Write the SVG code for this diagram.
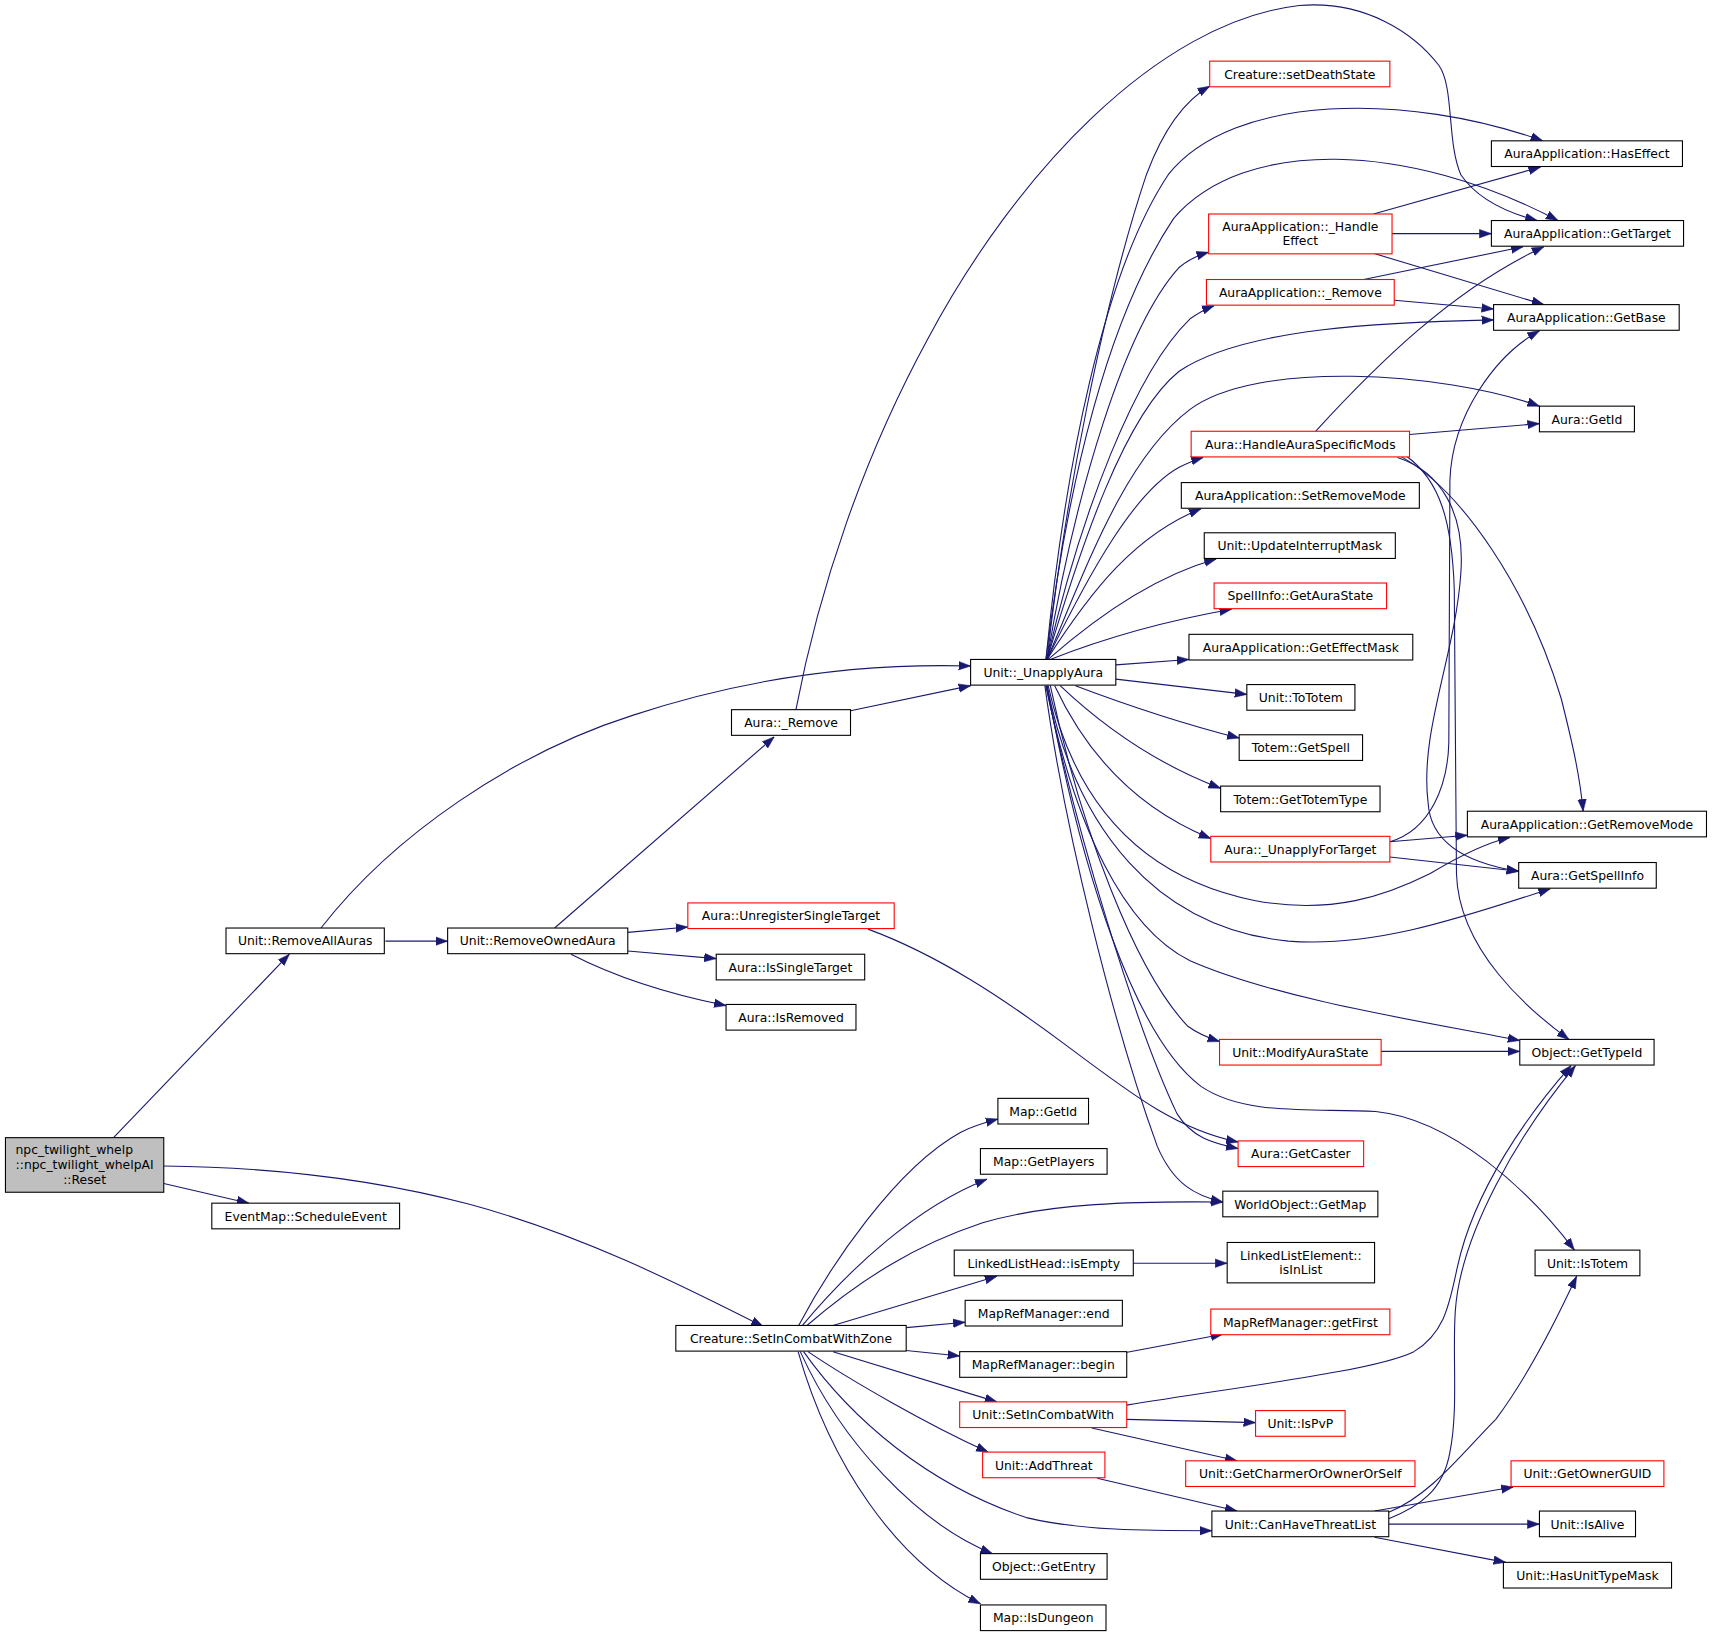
<svg xmlns="http://www.w3.org/2000/svg" width="1712" height="1636" viewBox="0 0 1712 1636">
<defs>
<style>
.n rect{fill:#ffffff;stroke:#000000;stroke-width:1}
.n.r rect{stroke:#ff0000}
.n.m rect{fill:#bfbfbf}
text{font-family:"DejaVu Sans","Liberation Sans",sans-serif;font-size:11.35px;text-anchor:middle;fill:#000000}
.e path{fill:none;stroke:#191970;stroke-width:1;marker-end:url(#a)}
</style>
<marker id="a" markerWidth="11" markerHeight="9" refX="11" refY="4.5" orient="auto" markerUnits="userSpaceOnUse"><path d="M0,0.6 L11,4.5 L0,8.4 z" fill="#191970" stroke="#191970" stroke-width="0.5"/></marker>
</defs>
<rect x="0" y="0" width="1712" height="1636" fill="#ffffff"/>
<g transform="scale(1.0918)">
<g id="edges" class="e">
<path d="M104,1042 L265,874"/>
<path d="M150,1084 L228,1102"/>
<path d="M150,1068 C260,1069 350,1082 430,1103 C530,1130 620,1175 699,1215"/>
<path d="M353,862 L410,862"/>
<path d="M294,850 C360,765 470,690 580,655 C680,622 780,607 889,610"/>
<path d="M508,850 L709,675"/>
<path d="M575,854 L630,849"/>
<path d="M575,871 L656,878"/>
<path d="M523,874 C560,893 610,910 665,921"/>
<path d="M779,651 L889,628"/>
<path d="M729,650 C750,540 790,420 850,310 C930,160 1060,20 1190,5 C1250,0 1295,30 1318,60 C1332,80 1325,130 1338,160 C1355,185 1385,196 1408,202"/>
<path d="M959,604 C975,460 1010,280 1050,160 C1065,120 1085,92 1108,79"/>
<path d="M958,604 C975,430 1010,250 1070,160 C1130,85 1290,85 1413,129"/>
<path d="M958,604 C978,440 1015,290 1075,200 C1140,125 1290,130 1427,202"/>
<path d="M959,604 C985,450 1030,300 1080,245 C1088,238 1097,234 1107,231"/>
<path d="M959,604 C990,470 1040,340 1090,292 C1097,287 1104,283 1112,280"/>
<path d="M959,604 C990,500 1030,380 1080,340 C1140,300 1270,295 1368,293"/>
<path d="M959,604 C995,520 1030,420 1090,375 C1150,330 1320,340 1410,372"/>
<path d="M959,604 C1000,520 1040,450 1080,428 C1088,424 1095,421 1102,419"/>
<path d="M959,604 C1000,540 1040,490 1100,466"/>
<path d="M960,604 C1010,560 1060,527 1114,512"/>
<path d="M962,604 C1010,585 1060,570 1128,558"/>
<path d="M1022,609 L1089,604"/>
<path d="M1022,622 L1142,636"/>
<path d="M985,628 C1030,645 1080,662 1135,676"/>
<path d="M971,628 C1010,665 1060,700 1118,722"/>
<path d="M966,628 C995,690 1040,740 1109,768"/>
<path d="M960,628 C985,740 1050,805 1150,825 C1220,838 1270,820 1310,800 C1335,785 1360,772 1383,767"/>
<path d="M959,628 C985,760 1060,850 1180,862 C1260,868 1340,840 1420,814"/>
<path d="M958,628 C985,760 1030,850 1090,880 C1170,915 1300,935 1392,953"/>
<path d="M962,628 C990,760 1040,890 1088,940 C1096,946 1105,950 1117,954"/>
<path d="M958,628 C985,760 1040,940 1078,1020 C1092,1042 1110,1047 1134,1052"/>
<path d="M957,628 C975,760 1020,940 1060,1050 C1075,1085 1095,1095 1120,1101"/>
<path d="M959,628 C990,800 1040,950 1100,995 C1140,1022 1200,1015 1260,1018 C1330,1025 1400,1090 1442,1145"/>
<path d="M795,851 C860,875 920,915 980,960 C1040,1005 1080,1035 1134,1046"/>
<path d="M1258,196 L1411,153"/>
<path d="M1275,214 L1366,214"/>
<path d="M1258,232 L1414,279"/>
<path d="M1249,256 L1395,226"/>
<path d="M1277,275 L1368,283"/>
<path d="M1205,395 C1260,335 1330,265 1414,226"/>
<path d="M1291,398 L1410,388"/>
<path d="M1283,418 C1340,450 1400,540 1430,640 C1440,680 1447,710 1450,743"/>
<path d="M1280,419 C1320,432 1342,470 1338,525 C1333,600 1300,670 1308,735 C1310,770 1340,790 1391,798"/>
<path d="M1287,417 C1320,440 1330,480 1332,540 L1334,800 C1336,870 1400,925 1437,952"/>
<path d="M1273,771 C1310,760 1326,720 1327,680 L1328,440 C1330,380 1370,325 1410,303"/>
<path d="M1273,771 L1344,765"/>
<path d="M1273,785 L1391,798"/>
<path d="M1265,963 L1392,963"/>
<path d="M731,1215 C760,1160 820,1070 880,1037 C892,1031 903,1028 914,1025"/>
<path d="M734,1215 C780,1160 840,1105 904,1080"/>
<path d="M738,1215 C790,1170 840,1140 900,1120 C960,1102 1040,1100 1120,1101"/>
<path d="M763,1214 L913,1169"/>
<path d="M830,1216 L884,1211"/>
<path d="M830,1237 L879,1242"/>
<path d="M763,1238 L913,1284"/>
<path d="M740,1238 C780,1265 850,1305 905,1330"/>
<path d="M736,1238 C780,1300 850,1360 940,1390 C990,1402 1050,1402 1110,1402"/>
<path d="M733,1238 C770,1320 840,1395 909,1423"/>
<path d="M731,1238 C760,1340 820,1430 898,1469"/>
<path d="M1038,1157 L1124,1157"/>
<path d="M1030,1239 L1120,1222"/>
<path d="M1032,1300 L1150,1303"/>
<path d="M1000,1308 L1133,1338"/>
<path d="M1032,1287 C1150,1268 1260,1255 1295,1238 C1325,1220 1328,1190 1335,1160 C1350,1090 1400,1020 1439,976"/>
<path d="M1005,1354 L1133,1384"/>
<path d="M1259,1384 L1386,1362"/>
<path d="M1272,1396 L1410,1396"/>
<path d="M1259,1408 L1379,1431"/>
<path d="M1272,1391 C1300,1380 1322,1365 1328,1330 C1336,1290 1330,1240 1333,1200 C1338,1130 1390,1040 1443,976"/>
<path d="M1272,1385 C1310,1370 1340,1330 1370,1300 C1400,1260 1425,1210 1444,1169"/>
</g>
<g id="n0" class="n m"><rect x="5" y="1042" width="145" height="50"/><text x="68" y="1057.4">npc_twilight_whelp</text><text x="77.5" y="1071.1">::npc_twilight_whelpAI</text><text x="77.5" y="1084.8">::Reset</text></g>
<g id="n1" class="n"><rect x="207" y="850" width="145" height="23.5"/><text x="279.5" y="866">Unit::RemoveAllAuras</text></g>
<g id="n2" class="n"><rect x="194" y="1102" width="172" height="23.5"/><text x="280" y="1118">EventMap::ScheduleEvent</text></g>
<g id="n3" class="n"><rect x="410" y="850" width="165" height="23.5"/><text x="492.5" y="866">Unit::RemoveOwnedAura</text></g>
<g id="n4" class="n"><rect x="619" y="1214" width="211" height="23.5"/><text x="724.5" y="1230">Creature::SetInCombatWithZone</text></g>
<g id="n5" class="n"><rect x="670" y="650" width="109" height="23.5"/><text x="724.5" y="666">Aura::_Remove</text></g>
<g id="n6" class="n r"><rect x="630" y="827" width="189" height="23.5"/><text x="724.5" y="843">Aura::UnregisterSingleTarget</text></g>
<g id="n7" class="n"><rect x="656" y="874" width="136" height="23.5"/><text x="724" y="890">Aura::IsSingleTarget</text></g>
<g id="n8" class="n"><rect x="665" y="920" width="119" height="23.5"/><text x="724.5" y="936">Aura::IsRemoved</text></g>
<g id="n9" class="n"><rect x="889" y="604" width="133" height="23.5"/><text x="955.5" y="620">Unit::_UnapplyAura</text></g>
<g id="n10" class="n"><rect x="914" y="1006" width="83" height="23.5"/><text x="955.5" y="1022">Map::GetId</text></g>
<g id="n11" class="n"><rect x="898" y="1052" width="116" height="23.5"/><text x="956" y="1068">Map::GetPlayers</text></g>
<g id="n12" class="n"><rect x="874" y="1145" width="164" height="23.5"/><text x="956" y="1161">LinkedListHead::isEmpty</text></g>
<g id="n13" class="n"><rect x="884" y="1191" width="144" height="23.5"/><text x="956" y="1207">MapRefManager::end</text></g>
<g id="n14" class="n"><rect x="879" y="1238" width="153" height="23.5"/><text x="955.5" y="1254">MapRefManager::begin</text></g>
<g id="n15" class="n r"><rect x="879" y="1284" width="153" height="23.5"/><text x="955.5" y="1300">Unit::SetInCombatWith</text></g>
<g id="n16" class="n r"><rect x="900" y="1330" width="112" height="23.5"/><text x="956" y="1346">Unit::AddThreat</text></g>
<g id="n17" class="n"><rect x="898" y="1423" width="116" height="23.5"/><text x="956" y="1439">Object::GetEntry</text></g>
<g id="n18" class="n"><rect x="898" y="1470" width="115" height="23.5"/><text x="955.5" y="1486">Map::IsDungeon</text></g>
<g id="n19" class="n r"><rect x="1108" y="56" width="165" height="23.5"/><text x="1190.5" y="72">Creature::setDeathState</text></g>
<g id="n20" class="n r"><rect x="1107" y="196" width="168" height="36.5"/><text x="1191" y="211.7">AuraApplication::_Handle</text><text x="1191" y="224.7">Effect</text></g>
<g id="n21" class="n r"><rect x="1105" y="256" width="172" height="23.5"/><text x="1191" y="272">AuraApplication::_Remove</text></g>
<g id="n22" class="n r"><rect x="1091" y="395" width="200" height="23.5"/><text x="1191" y="411">Aura::HandleAuraSpecificMods</text></g>
<g id="n23" class="n"><rect x="1082" y="442" width="218" height="23.5"/><text x="1191" y="458">AuraApplication::SetRemoveMode</text></g>
<g id="n24" class="n"><rect x="1103" y="488" width="175" height="23.5"/><text x="1190.5" y="504">Unit::UpdateInterruptMask</text></g>
<g id="n25" class="n r"><rect x="1112" y="534" width="158" height="23.5"/><text x="1191" y="550">SpellInfo::GetAuraState</text></g>
<g id="n26" class="n"><rect x="1089" y="581" width="205" height="23.5"/><text x="1191.5" y="597">AuraApplication::GetEffectMask</text></g>
<g id="n27" class="n"><rect x="1142" y="627" width="99" height="23.5"/><text x="1191.5" y="643">Unit::ToTotem</text></g>
<g id="n28" class="n"><rect x="1135" y="673" width="113" height="23.5"/><text x="1191.5" y="689">Totem::GetSpell</text></g>
<g id="n29" class="n"><rect x="1118" y="720" width="146" height="23.5"/><text x="1191" y="736">Totem::GetTotemType</text></g>
<g id="n30" class="n r"><rect x="1109" y="766" width="164" height="23.5"/><text x="1191" y="782">Aura::_UnapplyForTarget</text></g>
<g id="n31" class="n r"><rect x="1117" y="952" width="148" height="23.5"/><text x="1191" y="968">Unit::ModifyAuraState</text></g>
<g id="n32" class="n r"><rect x="1134" y="1045" width="115" height="23.5"/><text x="1191.5" y="1061">Aura::GetCaster</text></g>
<g id="n33" class="n"><rect x="1120" y="1091" width="142" height="23.5"/><text x="1191" y="1107">WorldObject::GetMap</text></g>
<g id="n34" class="n"><rect x="1124" y="1138" width="135" height="37"/><text x="1191.5" y="1154">LinkedListElement::</text><text x="1191.5" y="1167">isInList</text></g>
<g id="n35" class="n r"><rect x="1109" y="1199" width="164" height="23.5"/><text x="1191" y="1215">MapRefManager::getFirst</text></g>
<g id="n36" class="n r"><rect x="1150" y="1292" width="82" height="23.5"/><text x="1191" y="1308">Unit::IsPvP</text></g>
<g id="n37" class="n r"><rect x="1086" y="1338" width="210" height="23.5"/><text x="1191" y="1354">Unit::GetCharmerOrOwnerOrSelf</text></g>
<g id="n38" class="n"><rect x="1110" y="1384" width="162" height="23.5"/><text x="1191" y="1400">Unit::CanHaveThreatList</text></g>
<g id="n39" class="n"><rect x="1366" y="129" width="175" height="23.5"/><text x="1453.5" y="145">AuraApplication::HasEffect</text></g>
<g id="n40" class="n"><rect x="1366" y="202" width="176" height="23.5"/><text x="1454" y="218">AuraApplication::GetTarget</text></g>
<g id="n41" class="n"><rect x="1368" y="279" width="170" height="23.5"/><text x="1453" y="295">AuraApplication::GetBase</text></g>
<g id="n42" class="n"><rect x="1410" y="372" width="87" height="23.5"/><text x="1453.5" y="388">Aura::GetId</text></g>
<g id="n43" class="n"><rect x="1344" y="743" width="219" height="23.5"/><text x="1453.5" y="759">AuraApplication::GetRemoveMode</text></g>
<g id="n44" class="n"><rect x="1391" y="790" width="126" height="23.5"/><text x="1454" y="806">Aura::GetSpellInfo</text></g>
<g id="n45" class="n"><rect x="1392" y="952" width="123" height="23.5"/><text x="1453.5" y="968">Object::GetTypeId</text></g>
<g id="n46" class="n"><rect x="1406" y="1145" width="96" height="23.5"/><text x="1454" y="1161">Unit::IsTotem</text></g>
<g id="n47" class="n r"><rect x="1384" y="1338" width="140" height="23.5"/><text x="1454" y="1354">Unit::GetOwnerGUID</text></g>
<g id="n48" class="n"><rect x="1410" y="1384" width="88" height="23.5"/><text x="1454" y="1400">Unit::IsAlive</text></g>
<g id="n49" class="n"><rect x="1377" y="1431" width="154" height="23.5"/><text x="1454" y="1447">Unit::HasUnitTypeMask</text></g>
</g>
</svg>
